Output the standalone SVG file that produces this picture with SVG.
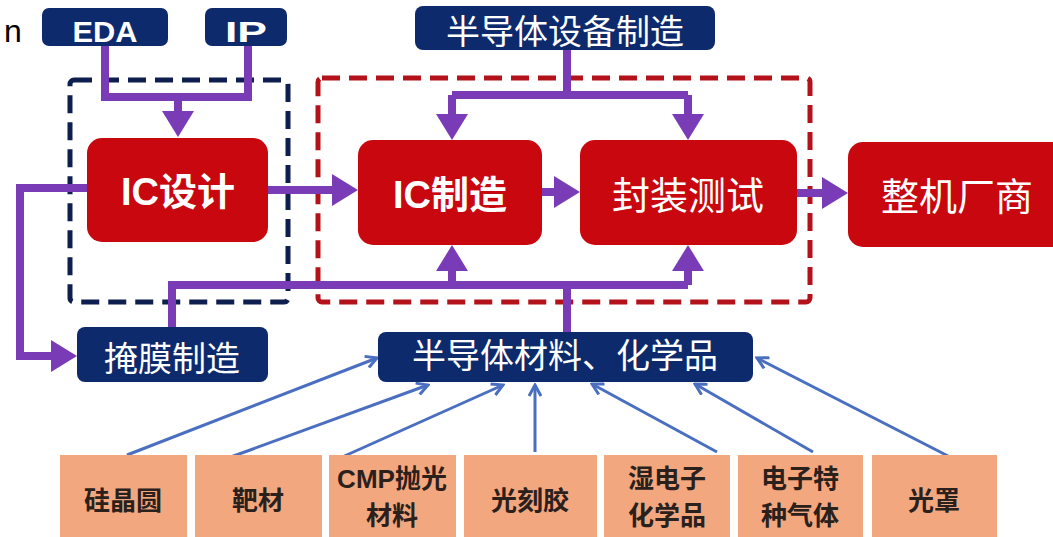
<svg xmlns="http://www.w3.org/2000/svg" width="1053" height="537" viewBox="0 0 1053 537">
<style>
.navy{fill:#0c2a6c}
.red{fill:#c8070f}
.orange{fill:#f3a77f}
.wt{fill:#ffffff;font-family:"Liberation Sans","Noto Sans CJK SC",sans-serif;text-anchor:middle}
.bt{fill:#2a201c;font-family:"Liberation Sans","Noto Sans CJK SC",sans-serif;font-weight:bold;font-size:26px;text-anchor:middle}
.pl{fill:none;stroke:#7a3cb6;stroke-width:8}
.bl{fill:none;stroke:#4a6fc0;stroke-width:3}
.dn{fill:none;stroke:#0e1f4f;stroke-width:5;stroke-dasharray:18 9}
.dr{fill:none;stroke:#b3121b;stroke-width:5;stroke-dasharray:18 9}
</style>
<defs>
<marker id="pa" viewBox="0 0 26 32" markerWidth="26" markerHeight="32" markerUnits="userSpaceOnUse" refX="4" refY="16" orient="auto">
<path d="M0,0 L26,16 L0,32 z" fill="#7a3cb6"/>
</marker>
<marker id="ba" viewBox="0 0 14 14" markerWidth="14" markerHeight="14" markerUnits="userSpaceOnUse" refX="12" refY="7" orient="auto">
<path d="M1,1 L12,7 L1,13" fill="none" stroke="#4a6fc0" stroke-width="3"/>
</marker>
</defs>
<rect width="1053" height="537" fill="#ffffff"/>
<text x="4" y="42" font-family="Liberation Sans, sans-serif" font-size="32" fill="#000">n</text>
<g id="groups">
<rect class="dn" x="70" y="80" width="218" height="222" rx="4"/>
<rect class="dr" x="318" y="78" width="492" height="224" rx="4"/>
</g>
<g id="connectors">
<path class="pl" d="M105,46 V97 H248 V46"/>
<path class="pl" d="M178,97 V115" marker-end="url(#pa)"/>
<path class="pl" d="M567,50 V95"/>
<path class="pl" d="M452,95 H688"/>
<path class="pl" d="M452,95 V118" marker-end="url(#pa)"/>
<path class="pl" d="M688,95 V118" marker-end="url(#pa)"/>
<path class="pl" d="M268,190 H336" marker-end="url(#pa)"/>
<path class="pl" d="M542,192 H558" marker-end="url(#pa)"/>
<path class="pl" d="M797,193 H826" marker-end="url(#pa)"/>
<path class="pl" d="M87,188 H20 V356 H55" marker-end="url(#pa)"/>
<path class="pl" d="M172,327 V285 H688"/>
<path class="pl" d="M567,332 V285"/>
<path class="pl" d="M452,285 V267" marker-end="url(#pa)"/>
<path class="pl" d="M688,285 V267" marker-end="url(#pa)"/>
<path class="bl" d="M127,455 L377,358" marker-end="url(#ba)"/>
<path class="bl" d="M228,458 L428,385" marker-end="url(#ba)"/>
<path class="bl" d="M340,458 L503,385" marker-end="url(#ba)"/>
<path class="bl" d="M535,452 L535,385" marker-end="url(#ba)"/>
<path class="bl" d="M717,452 L592,384" marker-end="url(#ba)"/>
<path class="bl" d="M813,452 L695,384" marker-end="url(#ba)"/>
<path class="bl" d="M950,457 L757,358" marker-end="url(#ba)"/>
</g>
<g id="eda"><rect class="navy" x="42" y="8" width="126" height="38" rx="7"/><text class="wt" x="105" y="42" font-size="30" font-weight="bold" textLength="65" lengthAdjust="spacingAndGlyphs">EDA</text></g>
<g id="ip"><rect class="navy" x="205" y="8" width="82" height="38" rx="7"/><text class="wt" x="246" y="42" font-size="30" font-weight="bold" textLength="42" lengthAdjust="spacingAndGlyphs">IP</text></g>
<g id="equip"><rect class="navy" x="415" y="6" width="300" height="44" rx="8"/><text class="wt" x="565" y="44" font-size="34">半导体设备制造</text></g>
<g id="icdesign"><rect class="red" x="87" y="138" width="181" height="104" rx="15"/><text class="wt" x="178" y="205" font-size="38" font-weight="bold">IC设计</text></g>
<g id="icfab"><rect class="red" x="358" y="140" width="184" height="105" rx="15"/><text class="wt" x="450" y="208" font-size="38" font-weight="bold">IC制造</text></g>
<g id="packtest"><rect class="red" x="580" y="140" width="217" height="105" rx="15"/><text class="wt" x="688" y="209" font-size="38">封装测试</text></g>
<g id="oem"><rect class="red" x="848" y="142" width="225" height="105" rx="15"/><text class="wt" x="957" y="210" font-size="38">整机厂商</text></g>
<g id="mask"><rect class="navy" x="77" y="327" width="191" height="55" rx="8"/><text class="wt" x="172" y="371" font-size="34">掩膜制造</text></g>
<g id="materials"><rect class="navy" x="378" y="332" width="375" height="50" rx="8"/><text class="wt" x="565" y="368" font-size="34">半导体材料、化学品</text></g>
<g id="wafer"><rect class="orange" x="60" y="455" width="127" height="90"/><text class="bt" x="123" y="510">硅晶圆</text></g>
<g id="target"><rect class="orange" x="195" y="455" width="127" height="90"/><text class="bt" x="258" y="510">靶材</text></g>
<g id="cmp"><rect class="orange" x="329" y="455" width="127" height="90"/><text class="bt" x="392" y="488">CMP抛光</text><text class="bt" x="392" y="525">材料</text></g>
<g id="photoresist"><rect class="orange" x="464" y="455" width="133" height="90"/><text class="bt" x="530" y="510">光刻胶</text></g>
<g id="wetchem"><rect class="orange" x="604" y="455" width="126" height="90"/><text class="bt" x="667" y="488">湿电子</text><text class="bt" x="667" y="525">化学品</text></g>
<g id="gas"><rect class="orange" x="738" y="455" width="125" height="90"/><text class="bt" x="800" y="488">电子特</text><text class="bt" x="800" y="525">种气体</text></g>
<g id="photomask"><rect class="orange" x="872" y="455" width="125" height="90"/><text class="bt" x="934" y="510">光罩</text></g>
</svg>
